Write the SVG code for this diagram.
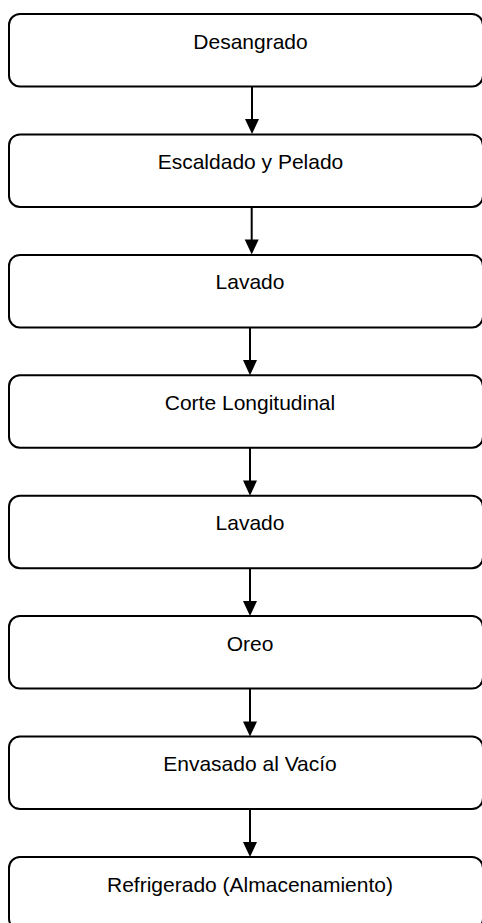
<svg xmlns="http://www.w3.org/2000/svg" width="482" height="923" viewBox="0 0 482 923">
<style>
.box{fill:#fff;stroke:#000;stroke-width:2}
.lbl{font-family:"Liberation Sans",Arial,sans-serif;font-size:21px;fill:#000;text-anchor:middle}
.edge{stroke:#000;stroke-width:2;fill:none}
.head{fill:#000}
</style>
<rect width="482" height="923" fill="#fff"/>
<g id="n1"><rect class="box" x="9" y="14" width="474" height="72.5" rx="11"/><text class="lbl" x="250.5" y="48.5">Desangrado</text></g>
<g id="n2"><rect class="box" x="9" y="134.4" width="474" height="72.5" rx="11"/><text class="lbl" x="250.5" y="168.9">Escaldado y Pelado</text></g>
<g id="n3"><rect class="box" x="9" y="254.9" width="474" height="72.5" rx="11"/><text class="lbl" x="250" y="289.4">Lavado</text></g>
<g id="n4"><rect class="box" x="9" y="375.3" width="474" height="72.5" rx="11"/><text class="lbl" x="250" y="409.8">Corte Longitudinal</text></g>
<g id="n5"><rect class="box" x="9" y="495.7" width="474" height="72.5" rx="11"/><text class="lbl" x="250" y="530.2">Lavado</text></g>
<g id="n6"><rect class="box" x="9" y="616.1" width="474" height="72.5" rx="11"/><text class="lbl" x="250" y="650.6">Oreo</text></g>
<g id="n7"><rect class="box" x="9" y="736.6" width="474" height="72.5" rx="11"/><text class="lbl" x="250" y="771.1">Envasado al Vacío</text></g>
<g id="n8"><rect class="box" x="9" y="857" width="474" height="72.5" rx="11"/><text class="lbl" x="250" y="891.5">Refrigerado (Almacenamiento)</text></g>
<g id="edges">
<line class="edge" x1="252" y1="86.5" x2="252" y2="120"/><polygon class="head" points="245,119 259,119 252,134"/>
<line class="edge" x1="251.7" y1="206.9" x2="251.7" y2="240"/><polygon class="head" points="244.7,239.5 258.7,239.5 251.7,254.5"/>
<line class="edge" x1="250" y1="327.4" x2="250" y2="361"/><polygon class="head" points="243,360 257,360 250,375.3"/>
<line class="edge" x1="250" y1="447.8" x2="250" y2="481"/><polygon class="head" points="243,480.5 257,480.5 250,495.7"/>
<line class="edge" x1="250" y1="568.2" x2="250" y2="601"/><polygon class="head" points="243,601 257,601 250,616.1"/>
<line class="edge" x1="250" y1="688.6" x2="250" y2="722"/><polygon class="head" points="243,721.5 257,721.5 250,736.6"/>
<line class="edge" x1="250" y1="809.1" x2="250" y2="842"/><polygon class="head" points="243,842 257,842 250,857"/>
</g>
</svg>
